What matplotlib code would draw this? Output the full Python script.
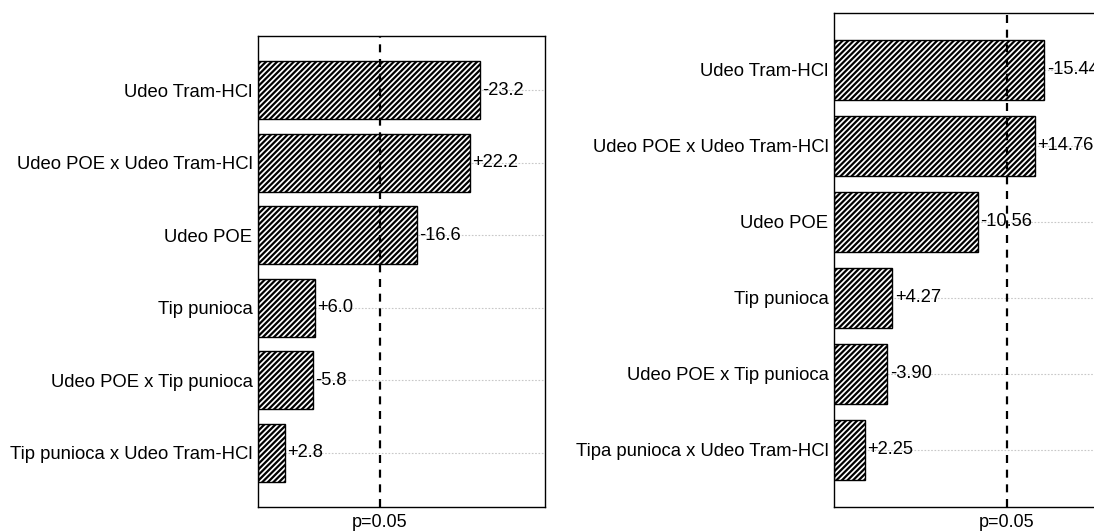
import matplotlib
matplotlib.use("Agg")
import matplotlib.pyplot as plt

plt.rcParams['font.family'] = ['Liberation Sans', 'DejaVu Sans']
plt.rcParams['hatch.linewidth'] = 1.6
plt.rcParams['hatch.color'] = 'black'

left_terms = ["Udeo Tram-HCl", "Udeo POE x Udeo Tram-HCl", "Udeo POE",
              "Tip punioca", "Udeo POE x Tip punioca", "Tip punioca x Udeo Tram-HCl"]
left_values = [23.2, 22.2, 16.6, 6.0, 5.8, 2.8]
left_labels = ["-23.2", "+22.2", "-16.6", "+6.0", "-5.8", "+2.8"]

right_terms = ["Udeo Tram-HCl", "Udeo POE x Udeo Tram-HCl", "Udeo POE",
               "Tip punioca", "Udeo POE x Tip punioca", "Tipa punioca x Udeo Tram-HCl"]
right_values = [15.44, 14.76, 10.56, 4.27, 3.90, 2.25]
right_labels = ["-15.44", "+14.76", "-10.56", "+4.27", "-3.90", "+2.25"]

t_crit = 12.706  # p=0.05 reference
ref_label = "p=0.05"

W, H = 1094, 531
fig = plt.figure(figsize=(W / 100, H / 100), dpi=100)

def panel(ax, terms, values, labels, xmax):
    y = list(range(len(terms)))
    for yi in y:
        ax.axhline(yi, color='#c8c8c8', lw=0.8, ls=(0, (1.5, 1.5)), zorder=0)
    ax.barh(y, values, height=0.8, color='white', edgecolor='black',
            hatch='//////', lw=1.0, zorder=2)
    for yi, v, lab in zip(y, values, labels):
        ax.text(v + 0.2, yi, lab, va='center', ha='left', fontsize=13.2, zorder=4)
    ax.axvline(t_crit, color='black', lw=1.6, ls=(0, (3.6, 3)), zorder=3)
    ax.set_xlim(0, xmax)
    ax.set_ylim(len(terms) - 0.25, -0.75)
    ax.set_yticks(y)
    ax.set_yticklabels(terms, fontsize=13.3)
    ax.tick_params(axis='y', length=0, pad=4)
    ax.set_xticks([t_crit])
    ax.set_xticklabels([ref_label], fontsize=13)
    ax.tick_params(axis='x', length=0, pad=5)
    for s in ax.spines.values():
        s.set_linewidth(1.0)
        s.set_color('black')

ax1 = fig.add_axes([258 / W, 24 / H, 287 / W, 471 / H])
panel(ax1, left_terms, left_values, left_labels, 30)

ax2 = fig.add_axes([834 / W, 24 / H, 272 / W, 494 / H])
panel(ax2, right_terms, right_values, right_labels, 20)

fig.savefig("out.png", dpi=100)
